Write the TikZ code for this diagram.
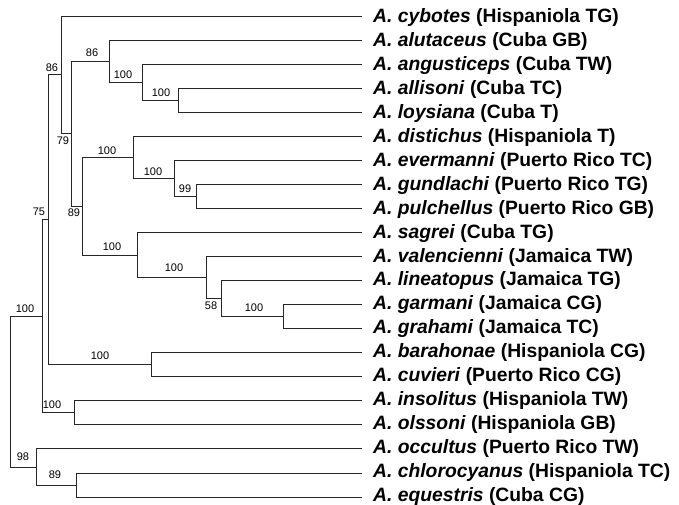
\documentclass[tikz,border=0pt]{standalone}
\usepackage{fontspec}
\setmainfont{Liberation Sans}
\usetikzlibrary{calc}
\begin{document}
\begin{tikzpicture}[x=1pt,y=-1pt,
  branch/.style={line width=0.9pt, draw=black!85},
  taxon/.style={anchor=base west, inner sep=0pt, font=\fontsize{19.3}{19.3}\selectfont\bfseries},
  support/.style={inner sep=0pt, font=\fontsize{11}{11}\selectfont}]
\useasboundingbox (0,0) rectangle (679,505);

% tips and taxon names (names sit a little closer together than the tips)
\foreach \i/\sp/\loc in {1/cybotes/Hispaniola TG, 2/alutaceus/Cuba GB, 3/angusticeps/Cuba TW,
  4/allisoni/Cuba TC, 5/loysiana/Cuba T, 6/distichus/Hispaniola T, 7/evermanni/Puerto Rico TC,
  8/gundlachi/Puerto Rico TG, 9/pulchellus/Puerto Rico GB, 10/sagrei/Cuba TG,
  11/valencienni/Jamaica TW, 12/lineatopus/Jamaica TG, 13/garmani/Jamaica CG,
  14/grahami/Jamaica TC, 15/barahonae/Hispaniola CG, 16/cuvieri/Puerto Rico CG,
  17/insolitus/Hispaniola TW, 18/olssoni/Hispaniola GB, 19/occultus/Puerto Rico TW,
  20/chlorocyanus/Hispaniola TC, 21/equestris/Cuba CG}{
  \coordinate (t\i) at (362, {16+24.05*(\i-1)});
  \node[taxon] (n\i) at ($(t\i)+(11,{7-3*(\i-1)/20})$) {\textit{A. \sp} (\loc)};
}

% internal nodes
\coordinate (A) at (178,100.25);
\coordinate (B) at (142,82.2);
\coordinate (C) at (109,61.1);
\coordinate (D) at (196,196.4);
\coordinate (E) at (174,178.4);
\coordinate (F) at (133,157.3);
\coordinate (G) at (283,316.7);
\coordinate (H) at (221,298.7);
\coordinate (I) at (206,277.6);
\coordinate (J) at (137,255.1);
\coordinate (K) at (82,206.2);
\coordinate (Lc) at (71,133.6);
\coordinate (M) at (61,74.8);
\coordinate (N) at (151,364.8);
\coordinate (O) at (48,219.8);
\coordinate (P) at (74,412.9);
\coordinate (Q) at (42,316.4);
\coordinate (R) at (76,485);
\coordinate (S) at (36,467);
\coordinate (root) at (10,391.7);

% branches
\draw[branch] (A) |- (t4)  (A) |- (t5);
\draw[branch] (B) |- (t3)  (B) |- (A);
\draw[branch] (C) |- (t2)  (C) |- (B);
\draw[branch] (D) |- (t8)  (D) |- (t9);
\draw[branch] (E) |- (t7)  (E) |- (D);
\draw[branch] (F) |- (t6)  (F) |- (E);
\draw[branch] (G) |- (t13) (G) |- (t14);
\draw[branch] (H) |- (t12) (H) |- (G);
\draw[branch] (I) |- (t11) (I) |- (H);
\draw[branch] (J) |- (t10) (J) |- (I);
\draw[branch] (K) |- (F)   (K) |- (J);
\draw[branch] (Lc) |- (C)  (Lc) |- (K);
\draw[branch] (M) |- (t1)  (M) |- (Lc);
\draw[branch] (N) |- (t15) (N) |- (t16);
\draw[branch] (O) |- (M)   (O) |- (N);
\draw[branch] (P) |- (t17) (P) |- (t18);
\draw[branch] (Q) |- (O)   (Q) |- (P);
\draw[branch] (R) |- (t20) (R) |- (t21);
\draw[branch] (S) |- (t19) (S) |- (R);
\draw[branch] (root) |- (Q) (root) |- (S);

% bootstrap support values
\node[support] (bM) at (52,68) {86};
\node[support] (bL) at (63,141) {79};
\node[support] (bC) at (92,53) {86};
\node[support] (bB) at (123,75) {100};
\node[support] (bA) at (161,93) {100};
\node[support] (bK) at (74,213) {89};
\node[support] (bF) at (107,151) {100};
\node[support] (bE) at (153,172) {100};
\node[support] (bD) at (185,189) {99};
\node[support] (bJ) at (112,247) {100};
\node[support] (bI) at (174,268) {100};
\node[support] (bH) at (211,306) {58};
\node[support] (bG) at (254,308) {100};
\node[support] (bO) at (39,212) {75};
\node[support] (bN) at (100,356) {100};
\node[support] (bP) at (52,405) {100};
\node[support] (bQ) at (25,309) {100};
\node[support] (bS) at (23,457) {98};
\node[support] (bR) at (55,475) {89};
\end{tikzpicture}
\end{document}
